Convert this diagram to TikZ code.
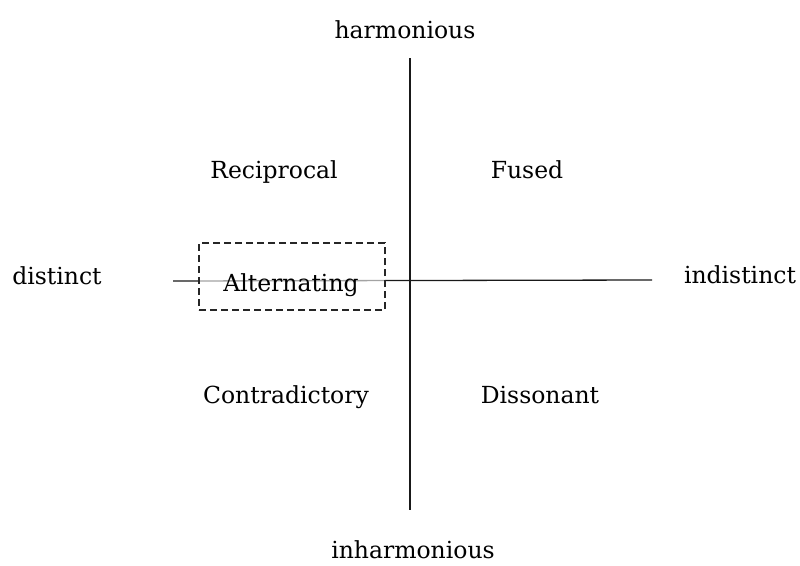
\documentclass[tikz,border=0pt]{standalone}
\usepackage{fontspec}
\setmainfont{DejaVu Serif}
\begin{document}
\begin{tikzpicture}[x=1pt,y=-1pt,
  lbl/.style={font=\fontsize{23.5}{28}\selectfont, inner sep=0pt, anchor=base},
  axis/.style={line width=1.3pt, black!90}]
\useasboundingbox (0,0) rectangle (800,565);
\coordinate (L) at (173,281);
\coordinate (R) at (652,280);
\coordinate (T) at (410,58);
\coordinate (B) at (410,510);
\draw[axis] (L) -- (R);
\draw[axis] (T) -- (B);
\node[draw, dash pattern=on 7pt off 4pt, line width=1.3pt, black!85, fill=white, fill opacity=0.6, draw opacity=1, minimum width=186pt, minimum height=67pt, inner sep=0pt] (box) at (292,276.5) {};
\node[lbl] (alt) at (291,291) {Alternating};
\node[lbl] (harm) at (405,38) {harmonious};
\node[lbl] (inharm) at (413,558) {inharmonious};
\node[lbl] (dist) at (57,284) {distinct};
\node[lbl] (indist) at (740,283) {indistinct};
\node[lbl] (rec) at (274,178) {Reciprocal};
\node[lbl] (fus) at (527,178) {Fused};
\node[lbl] (con) at (286,403) {Contradictory};
\node[lbl] (dis) at (540,403) {Dissonant};
\end{tikzpicture}
\end{document}
